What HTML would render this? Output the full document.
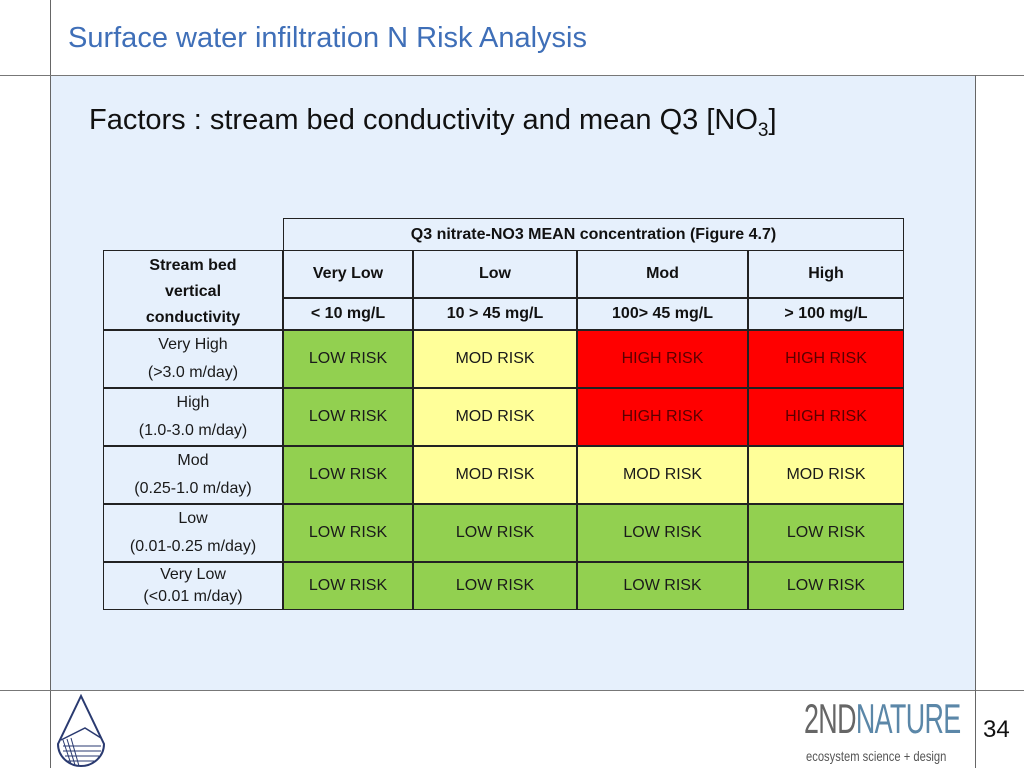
<!DOCTYPE html>
<html><head><meta charset="utf-8">
<style>
body{margin:0;width:1024px;height:768px;position:relative;background:#fff;font-family:"Liberation Sans",sans-serif;overflow:hidden}
.a{position:absolute}
.cell{position:absolute;box-sizing:border-box;display:flex;align-items:center;justify-content:center;text-align:center;font-size:16px;color:#1a1a1a;line-height:28px}
.hd{font-weight:bold;color:#111}
</style></head><body>
<div class="a" style="left:50px;top:0;width:1px;height:768px;background:#666"></div>
<div class="a" style="left:51px;top:76px;width:924px;height:614px;background:#e6f0fc"></div>
<div class="a" style="left:0;top:75px;width:1024px;height:1px;background:#777"></div>
<div class="a" style="left:0;top:690px;width:1024px;height:1px;background:#777"></div>
<div class="a" style="left:975px;top:75px;width:1px;height:693px;background:#666"></div>
<div class="a" style="left:68px;top:22px;font-size:29px;color:#3f6fb8">Surface water infiltration N Risk Analysis</div>
<div class="a" style="left:89px;top:104px;font-size:29px;color:#111">Factors : stream bed conductivity and mean Q3 [NO<sub style="font-size:19px">3</sub>]</div>
<div id="tbl"></div>
<svg class="a" style="left:55px;top:694px" width="52" height="74" viewBox="0 0 52 74">
<path d="M26 2 L3 50 A23 22 0 0 0 49 50 Z" fill="#fff" stroke="#2a3a70" stroke-width="2"/>
<path d="M6 46 L30 34 L46 44" fill="none" stroke="#2a3a70" stroke-width="1.5"/>
<g stroke="#2a3a70" stroke-width="1"><line x1="8" y1="52" x2="46" y2="52"/><line x1="8" y1="57" x2="46" y2="57"/><line x1="10" y1="62" x2="44" y2="62"/><line x1="12" y1="67" x2="40" y2="67"/><line x1="8" y1="46" x2="16" y2="70"/><line x1="12" y1="45" x2="20" y2="71"/><line x1="16" y1="44" x2="24" y2="72"/></g></svg>
<div class="a" style="left:804px;top:697px;font-size:42px;line-height:44px;color:#666;letter-spacing:-1px;transform:scaleX(0.64);transform-origin:left">2ND<span style="color:#5b87a8">NATURE</span></div>
<div class="a" style="left:806px;top:748px;font-size:14px;color:#555;transform:scaleX(0.8);transform-origin:left">ecosystem science + design</div>
<div class="a" style="left:983px;top:716px;font-size:24px;color:#111">34</div>
<script>
const colHeads=["Very Low","Low","Mod","High"];
const colRanges=["< 10 mg/L","10 > 45 mg/L","100> 45 mg/L","> 100 mg/L"];
const rowNames=["Very High","High","Mod","Low","Very Low"];
const rowRanges=["(>3.0 m/day)","(1.0-3.0 m/day)","(0.25-1.0 m/day)","(0.01-0.25 m/day)","(<0.01 m/day)"];
const risk=[["LOW","MOD","HIGH","HIGH"],["LOW","MOD","HIGH","HIGH"],["LOW","MOD","MOD","MOD"],["LOW","LOW","LOW","LOW"],["LOW","LOW","LOW","LOW"]];
const colX=[103,283,413,577,748,904];
const rowY=[330,388,446,504,562,610];
const colors={LOW:"#92d050",MOD:"#ffff99",HIGH:"#ff0000"};
const tbl=document.getElementById('tbl');
function cell(x,y,w,h,html,bg,cls){const d=document.createElement('div');d.className='cell '+(cls||'');
d.style.cssText+=`left:${x}px;top:${y}px;width:${w}px;height:${h}px;background:${bg||'transparent'};border:1px solid #222;`;
d.innerHTML=html;tbl.appendChild(d);return d;}
let c=cell(283,218,621,33,"Q3 nitrate-NO3 MEAN concentration (Figure 4.7)","#e6f0fc","hd");


c=cell(103,250,180,80,"Stream bed<br>vertical<br>conductivity","#e6f0fc","hd");c.style.lineHeight="26px";c.style.paddingTop="4px";


for(let j=0;j<4;j++){
 c=cell(colX[j+1],250,colX[j+2]-colX[j+1],48,colHeads[j],"#e6f0fc","hd");
 
 
 c=cell(colX[j+1],298,colX[j+2]-colX[j+1],32,colRanges[j],"#e6f0fc","hd");
 
 
}
for(let i=0;i<5;i++){
 const h=rowY[i+1]-rowY[i];
 c=cell(103,rowY[i],180,h,rowNames[i]+"<br>"+rowRanges[i].replace(/</g,'&lt;').replace(/>/g,'&gt;'),"#e6f0fc");
 if(i==4)c.style.lineHeight="22px";
 
 
 for(let j=0;j<4;j++){
  c=cell(colX[j+1],rowY[i],colX[j+2]-colX[j+1],h,risk[i][j]+" RISK",colors[risk[i][j]]);
  if(risk[i][j]=="HIGH")c.style.color="#5a0000";
  
  
 }
}
</script>
</body></html>
